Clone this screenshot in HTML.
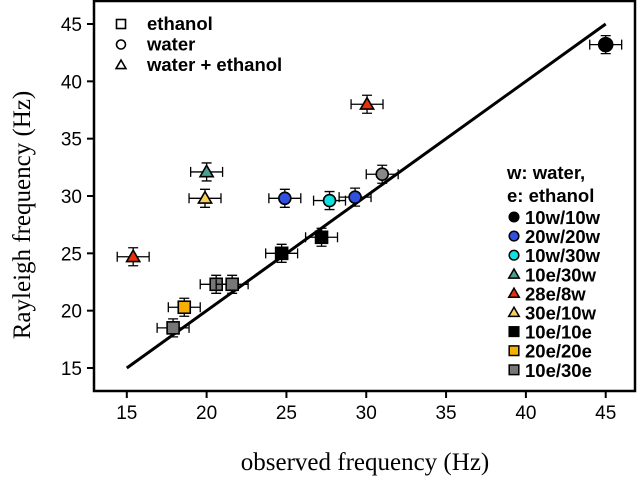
<!DOCTYPE html>
<html><head><meta charset="utf-8"><style>body{margin:0;background:#fff}svg{display:block}</style></head>
<body>
<svg id="c" width="640" height="484" xmlns="http://www.w3.org/2000/svg"></svg>
<script>
const xVals=[45,30.05,31.0,20.0,19.9,24.9,27.7,29.3,27.2,24.7,15.4,20.6,21.6,18.6,17.9];
const yVals=[43.2,38.0,31.9,32.1,29.8,29.8,29.6,29.9,26.4,25.0,24.7,22.3,22.3,20.3,18.5];
const shapes=["c","t","c","t","t","c","c","c","s","s","t","s","s","s","s"];
const fills=["#000","#e8300a","#888","#4a9e90","#f5d05a","#3050e0","#10e0e0","#3050e0","#000","#000","#e8300a","#777","#777","#f5b000","#777"];
const xTicks=[15,20,25,30,35,40,45];
const yTicks=[15,20,25,30,35,40,45];
const legendNames=["10w/10w","20w/20w","10w/30w","10e/30w","28e/8w","30e/10w","10e/10e","20e/20e","10e/30e"];
const legendShapes=["c","c","c","t","t","t","s","s","s"];
const legendFills=["#000","#3050e0","#10e0e0","#4a9e90","#e8300a","#f5d05a","#000","#f5b000","#777"];
const svg=document.getElementById('c');const NS="http://www.w3.org/2000/svg";
const X=v=>126.8+(v-15)*(605.7-126.8)/30;
const Y=v=>368-(v-15)*(344/30);
function mk(t,a,p){const e=document.createElementNS(NS,t);for(const k in a)e.setAttribute(k,a[k]);(p||svg).appendChild(e);return e;}
function marker(s,x,y,f,r,sw){if(s==="c")return mk('circle',{cx:x,cy:y,r:r,fill:f,stroke:'#000','stroke-width':sw});
if(s==="s")return mk('rect',{x:x-r,y:y-r,width:2*r,height:2*r,fill:f,stroke:'#000','stroke-width':sw});
return mk('polygon',{points:`${x},${y-r*1.1} ${x-r*1.1},${y+r*0.8} ${x+r*1.1},${y+r*0.8}`,fill:f,stroke:'#000','stroke-width':sw});}
let fr=mk('rect',{x:94,y:1,width:541,height:390,fill:'none',stroke:'#000','stroke-width':2.5});

xTicks.forEach(v=>{const x=X(v);mk('line',{x1:x,x2:x,y1:391,y2:398,stroke:'#000','stroke-width':2});
const t=mk('text',{x:x,y:419,'text-anchor':'middle','font-family':'Liberation Sans, sans-serif','font-size':19});t.textContent=v;
});
yTicks.forEach(v=>{const y=Y(v);mk('line',{x1:87,x2:94,y1:y,y2:y,stroke:'#000','stroke-width':2});
const t=mk('text',{x:82,y:y+7,'text-anchor':'end','font-family':'Liberation Sans, sans-serif','font-size':19});t.textContent=v;
});
let xl=mk('text',{x:365,y:470,'text-anchor':'middle','font-family':'Liberation Serif, serif','font-size':25});xl.textContent='observed frequency (Hz)';

let yl=mk('text',{x:0,y:0,transform:'translate(30,215) rotate(-90)','text-anchor':'middle','font-family':'Liberation Serif, serif','font-size':25});yl.textContent='Rayleigh frequency (Hz)';

let ln=mk('line',{x1:X(15),y1:Y(15),x2:X(45),y2:Y(45),stroke:'#000','stroke-width':3});

xVals.forEach((v,i)=>{const x=X(v),y=Y(yVals[i]);const g=mk('g',{});

const ex=X(v+1)-x,ey=9;
mk('path',{d:`M${x-ex},${y}H${x+ex}M${x-ex},${y-5}V${y+5}M${x+ex},${y-5}V${y+5}M${x},${y-ey}V${y+ey}M${x-5},${y-ey}H${x+5}M${x-5},${y+ey}H${x+5}`,stroke:'#000','stroke-width':1.3,fill:'none'},g);
const m=marker(shapes[i],x,y,fills[i],shapes[i]==="c"&&i===0?7:6,1.6);g.appendChild(m);});
const lg1=[["s","ethanol"],["c","water"],["t","water + ethanol"]];
lg1.forEach((d,i)=>{const y=24+i*20.5;const m=marker(d[0],121,y,'#fff',4.5,1.6);
const t=mk('text',{x:147,y:y+6,'font-family':'Liberation Sans, sans-serif','font-size':18.5,'font-weight':'bold'});t.textContent=d[1];
});
[["w: water,",179],["e: ethanol",202]].forEach(d=>{const t=mk('text',{x:507,y:d[1],'font-family':'Liberation Sans, sans-serif','font-size':18.5,'font-weight':'bold'});t.textContent=d[0];
});
legendNames.forEach((n,i)=>{const y=217+i*19.1;marker(legendShapes[i],514,y,legendFills[i],4.8,1.5);
const t=mk('text',{x:525,y:y+7,'font-family':'Liberation Sans, sans-serif','font-size':18.5,'font-weight':'bold'});t.textContent=n;
});
</script>
</body></html>
